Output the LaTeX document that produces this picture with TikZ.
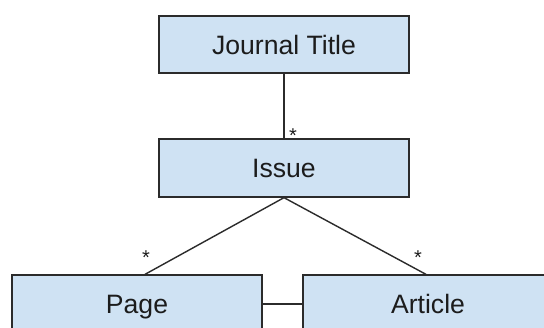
\documentclass[tikz,border=0pt]{standalone}
\usepackage{fontspec}
\setmainfont{Liberation Sans}
\definecolor{boxfill}{HTML}{CFE2F3}
\definecolor{boxline}{HTML}{2B2B2B}
\definecolor{inktext}{HTML}{1C1C1C}
\begin{document}
\begin{tikzpicture}[x=1pt,y=-1pt,
  entity/.style={draw=boxline, line width=1.3pt, fill=boxfill, rectangle,
    minimum width=250pt, minimum height=58pt, inner sep=0pt,
    text=inktext, font=\fontsize{26.6}{30}\selectfont,
    text height=19pt, text depth=0pt},
  link/.style={draw=boxline, line width=1.4pt},
  mult/.style={font=\fontsize{20}{22}\selectfont, text=inktext, inner sep=0pt, anchor=base}]
  \useasboundingbox (0,0) rectangle (544,327);
  \fill[white] (0,0) rectangle (544,327);
  \clip (0,0) rectangle (544,327);

  % classes
  \node[entity, minimum height=57pt] (journal) at (284,44.5) {Journal Title};
  \node[entity] (issue) at (284,168) {Issue};
  \node[entity] (page) at (137,304) {Page};
  \node[entity] (article) at (428,304) {Article};

  % associations
  \draw[link] (journal.south) -- (issue.north);
  \draw[link] (issue.south) -- ([xshift=8pt]page.north);
  \draw[link] (issue.south) -- ([xshift=-2pt]article.north);
  \draw[link] (page.east) -- (article.west);

  % multiplicities
  \node[mult] (m1) at (293,142) {*};
  \node[mult] (m2) at (146,264) {*};
  \node[mult] (m3) at (418,264) {*};
\end{tikzpicture}
\end{document}
